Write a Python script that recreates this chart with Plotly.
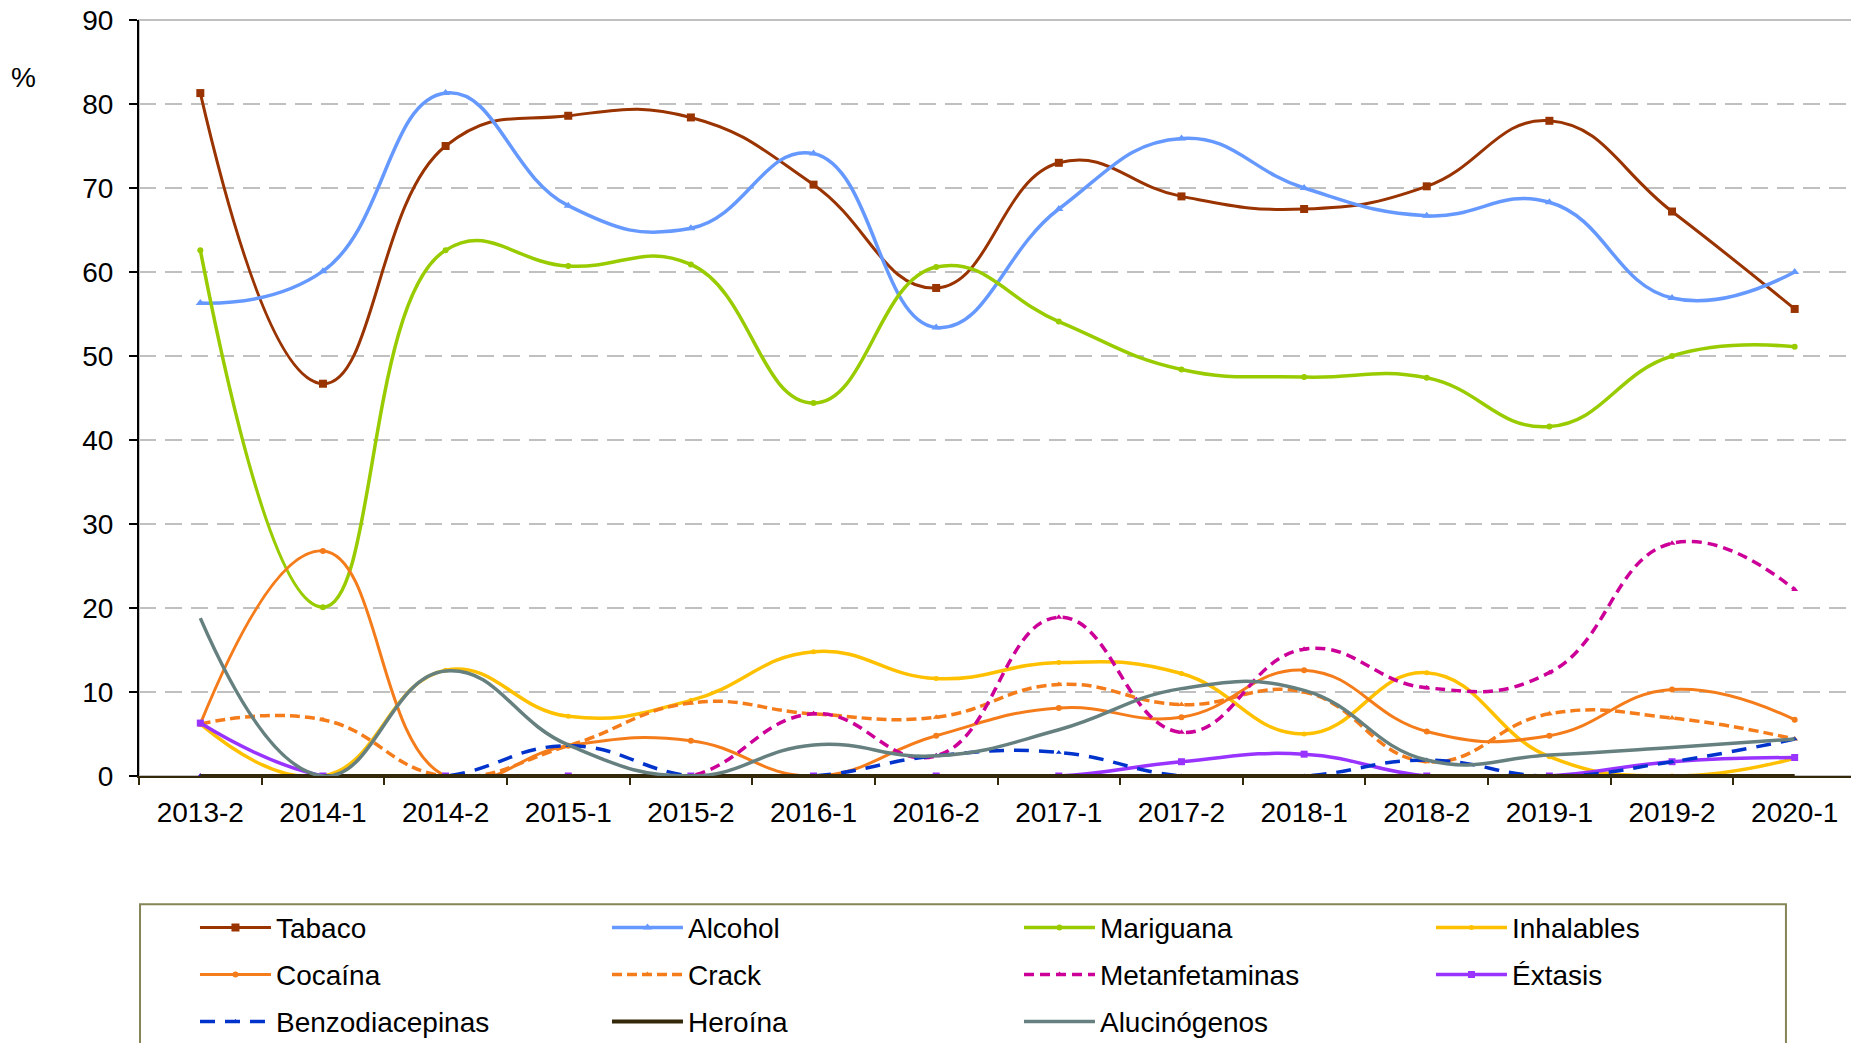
import plotly.graph_objects as go

categories = ["2013-2", "2014-1", "2014-2", "2015-1", "2015-2", "2016-1", "2016-2",
              "2017-1", "2017-2", "2018-1", "2018-2", "2019-1", "2019-2", "2020-1"]

tabaco = [81.3, 46.7, 75.0, 78.6, 78.4, 70.4, 58.1, 73.0, 69.0, 67.5, 70.2, 78.0, 67.2, 55.6]
alcohol = [56.3, 60.1, 81.3, 67.9, 65.2, 74.1, 53.4, 67.5, 75.9, 70.0, 66.7, 68.3, 56.9, 60.0]
mariguana = [62.6, 20.1, 62.6, 60.7, 60.9, 44.4, 60.6, 54.1, 48.4, 47.5, 47.4, 41.6, 50.0, 51.1]
inhalables = [6.2, 0.0, 12.6, 7.1, 9.0, 14.8, 11.6, 13.5, 12.2, 5.0, 12.3, 2.3, 0.0, 2.1]
cocaina = [6.2, 26.8, 0.0, 3.6, 4.2, 0.0, 4.8, 8.1, 7.0, 12.6, 5.3, 4.8, 10.3, 6.7]
crack = [6.2, 6.7, 0.0, 3.6, 8.7, 7.4, 7.0, 10.9, 8.5, 10.0, 1.7, 7.4, 6.9, 4.4]
metanfetaminas = [0.0, 0.0, 0.0, 0.0, 0.0, 7.4, 2.4, 18.9, 5.2, 15.1, 10.5, 12.3, 27.7, 22.2]
extasis = [6.3, 0.0, 0.0, 0.0, 0.0, 0.0, 0.0, 0.0, 1.7, 2.6, 0.0, 0.0, 1.7, 2.2]
benzodiacepinas = [0.0, 0.0, 0.0, 3.6, 0.0, 0.0, 2.4, 2.8, 0.0, 0.0, 1.9, 0.0, 1.7, 4.4]
heroina = [0.0, 0.0, 0.0, 0.0, 0.0, 0.0, 0.0, 0.0, 0.0, 0.0, 0.0, 0.0, 0.0, 0.0]
alucinogenos = [18.8, 0.0, 12.5, 3.7, 0.0, 3.7, 2.4, 5.5, 10.4, 10.2, 1.9, 2.5, 3.4, 4.4]

y_ticks = [0, 10, 20, 30, 40, 50, 60, 70, 80, 90]

FONT = "Liberation Sans, Arial, sans-serif"

series = [
    ("Tabaco", tabaco, "#993300", "solid", 3, "square", 8, "legend"),
    ("Alcohol", alcohol, "#6699FF", "solid", 3.5, "triangle-up", 8, "legend"),
    ("Mariguana", mariguana, "#99CC00", "solid", 3.5, "circle", 6, "legend"),
    ("Inhalables", inhalables, "#FFC000", "solid", 3.5, "circle", 5, "legend"),
    ("Cocaína", cocaina, "#F57C1A", "solid", 3, "circle", 6, "legend2"),
    ("Crack", crack, "#F57C1A", "10px,5px", 3.5, "triangle-up", 6, "legend2"),
    ("Metanfetaminas", metanfetaminas, "#CC0099", "10px,6px", 3.5, "triangle-up", 6, "legend2"),
    ("Éxtasis", extasis, "#9933FF", "solid", 3.5, "square", 7, "legend2"),
    ("Benzodiacepinas", benzodiacepinas, "#0033CC", "15px,10px", 3.5, "triangle-up", 5, "legend3"),
    ("Heroína", heroina, "#33290A", "solid", 4, None, 0, "legend3"),
    ("Alucinógenos", alucinogenos, "#668080", "solid", 3.5, None, 0, "legend3"),
]

fig = go.Figure()
for name, vals, color, dash, width, symbol, msize, leg in series:
    kw = dict(
        x=categories, y=vals, name=name, legend=leg,
        line=dict(color=color, width=width, dash=dash, shape="spline", smoothing=1.3),
        hoverinfo="skip",
    )
    if symbol:
        kw["mode"] = "lines+markers"
        kw["marker"] = dict(symbol=symbol, size=msize, color=color, line=dict(width=0))
    else:
        kw["mode"] = "lines"
    fig.add_trace(go.Scatter(**kw))

legend_common = dict(
    orientation="h", xref="paper", yref="paper", x=0.0326, xanchor="left", yanchor="middle",
    font=dict(size=28, family=FONT, color="black"), itemwidth=71,
    entrywidth=326, entrywidthmode="pixels", bgcolor="rgba(0,0,0,0)", borderwidth=0,
    traceorder="normal",
)

# The page body adds an 8px offset, so the figure is drawn 8px smaller on each axis.
fig.update_layout(
    width=1851, height=1035,
    margin=dict(l=131, r=3, t=12, b=267, autoexpand=False),
    paper_bgcolor="white", plot_bgcolor="white",
    font=dict(family=FONT, size=28, color="black"),
    legend=dict(legend_common, y=-0.2007),
    legend2=dict(legend_common, y=-0.2628),
    legend3=dict(legend_common, y=-0.3250),
    xaxis=dict(
        type="category", range=[-0.5, len(categories) - 0.5],
        showline=True, linecolor="#33290A", linewidth=2,
        ticks="outside", tickson="boundaries", ticklen=7, tickwidth=2, tickcolor="#33290A",
        showgrid=False, zeroline=False, ticklabeloverflow="allow",
        tickfont=dict(size=28, family=FONT, color="black"), ticklabelstandoff=10,
    ),
    yaxis=dict(
        range=[0, 90], tickvals=y_ticks, ticktext=[str(v) for v in y_ticks],
        showline=True, linecolor="black", linewidth=2,
        ticks="outside", ticklen=8, tickwidth=2, tickcolor="black",
        showgrid=True, gridcolor="#C0C0C0", gridwidth=2, griddash="17px,9px",
        zeroline=False, ticklabeloverflow="allow",
        tickfont=dict(size=28, family=FONT, color="black"), ticklabelstandoff=10,
    ),
    shapes=[
        dict(type="rect", xref="paper", yref="paper", x0=0, x1=1, y0=0, y1=1,
             line=dict(color="#C0C0C0", width=2), layer="below"),
        dict(type="rect", xref="paper", yref="paper", x0=0.0006, x1=0.9592, y0=-0.1697, y1=-0.38,
             line=dict(color="#858557", width=2), fillcolor="rgba(0,0,0,0)", layer="above"),
    ],
    annotations=[
        dict(text="%", xref="paper", yref="paper", x=-0.067, y=0.9246, showarrow=False,
             xanchor="center", yanchor="middle", font=dict(size=28, family=FONT, color="black")),
    ],
)

fig.write_html("out.html")
